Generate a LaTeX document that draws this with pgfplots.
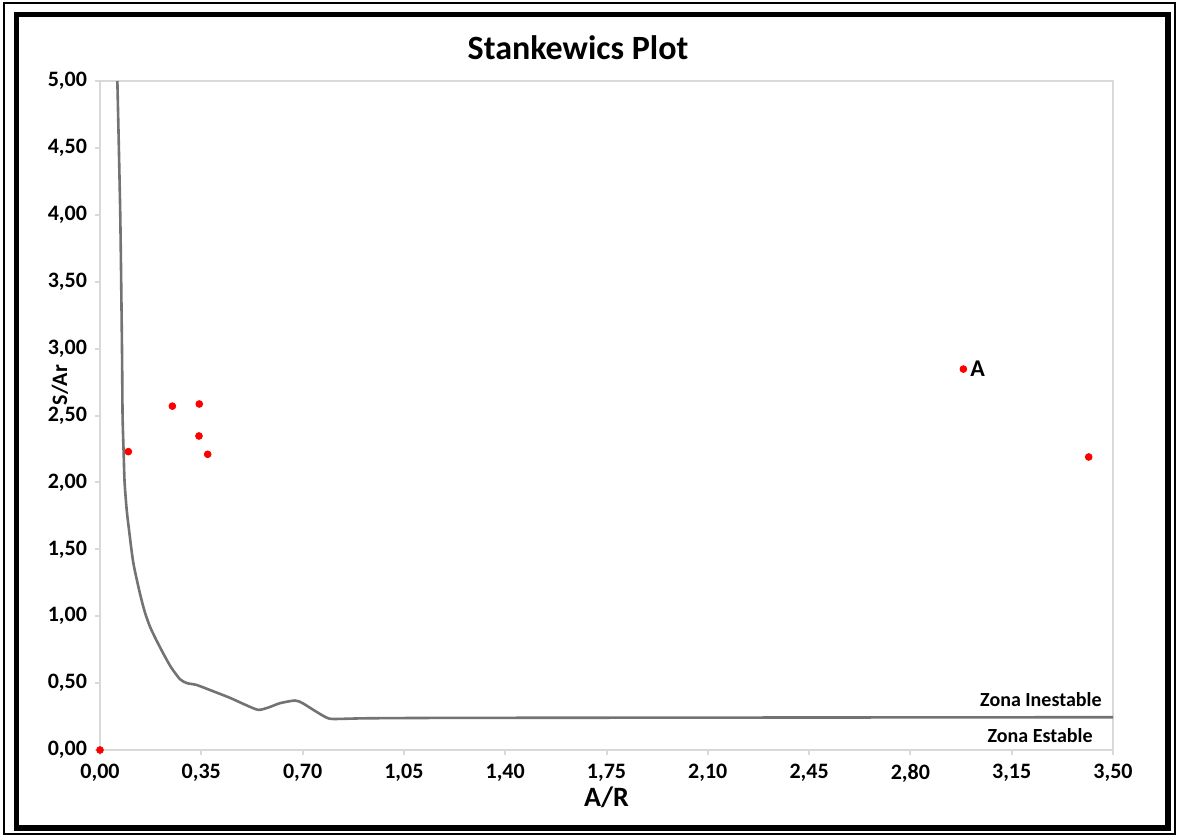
\documentclass[border=0pt]{standalone}
\usepackage{fontspec}
\setmainfont{Carlito}
\usepackage{pgfplots}
\pgfplotsset{compat=1.18}
\definecolor{axisgray}{RGB}{217,217,217}
\definecolor{curvegray}{RGB}{115,115,115}
\begin{document}
\begin{tikzpicture}
\path[use as bounding box] (0,0) rectangle (588.5pt,418.5pt);
% outer frames
\draw[line width=0.75pt] (2pt,1.5pt) rectangle (587.5pt,417pt);
\draw[line width=2.8pt] (8.25pt,4.5pt) rectangle (584pt,411.25pt);
\node[font=\fontsize{17}{20}\selectfont\bfseries] at (289pt,394.5pt) {Stankewics Plot};
\begin{axis}[
  at={(50pt,43.5pt)}, anchor=south west,
  scale only axis, width=506.5pt, height=334.5pt,
  xmin=0, xmax=3.5, ymin=0, ymax=5,
  xtick={0,0.35,0.7,1.05,1.4,1.75,2.1,2.45,2.8,3.15,3.5},
  ytick={0,0.5,1,1.5,2,2.5,3,3.5,4,4.5,5},
  /pgf/number format/.cd, fixed, fixed zerofill, precision=2, use comma, assume math mode=true,
  /pgfplots/.cd,
  axis line style={axisgray, line width=1pt},
  tick style={axisgray, line width=1pt},
  tick align=outside, major tick length=2.5pt,
  xtick pos=bottom, ytick pos=left,
  ticklabel style={font=\fontsize{11}{13}\selectfont\bfseries, text=black},
  xticklabel style={yshift=-1pt},
  yticklabel style={xshift=-0.5pt},
  xlabel={A/R}, ylabel={S/Ar},
  xlabel style={font=\fontsize{14}{16}\selectfont\bfseries, at={(axis description cs:0.5,0)}, anchor=center, yshift=-23.5pt},
  ylabel style={font=\fontsize{11}{13}\selectfont\bfseries, at={(axis description cs:0,0.5456)}, anchor=center, yshift=20pt},
  clip=false,
]
\addplot[curvegray, line width=1.3pt, smooth, tension=0.4] coordinates {
(0.060,5.00)(0.070,4.00)(0.076,3.00)(0.078,2.50)(0.082,2.20)(0.085,2.00)
(0.092,1.80)(0.100,1.65)(0.115,1.40)(0.138,1.17)(0.155,1.03)(0.173,0.92)
(0.195,0.82)(0.219,0.72)(0.245,0.62)(0.276,0.53)(0.300,0.50)(0.334,0.486)
(0.390,0.44)(0.449,0.39)(0.500,0.34)(0.547,0.30)(0.585,0.32)(0.622,0.35)
(0.674,0.37)(0.700,0.35)(0.737,0.30)(0.780,0.245)(0.806,0.232)(0.921,0.237)
(1.200,0.240)(2.000,0.242)(3.500,0.245)
};
\addplot[only marks, mark=*, mark size=1.7pt, color=red] coordinates {
(0.000,0.000)(0.098,2.23)(0.250,2.57)(0.343,2.586)(0.342,2.347)(0.372,2.21)
(2.983,2.847)(3.416,2.19)
};
\node[anchor=west, inner sep=0pt, font=\fontsize{12}{14}\selectfont\bfseries] at (axis cs:3.006,2.847) {A};
\node[anchor=east, inner sep=0pt, font=\fontsize{10}{12}\selectfont\bfseries] at (axis cs:3.462,0.374) {Zona Inestable};
\node[anchor=east, inner sep=0pt, font=\fontsize{10}{12}\selectfont\bfseries] at (axis cs:3.431,0.105) {Zona Estable};
\end{axis}
\end{tikzpicture}
\end{document}
